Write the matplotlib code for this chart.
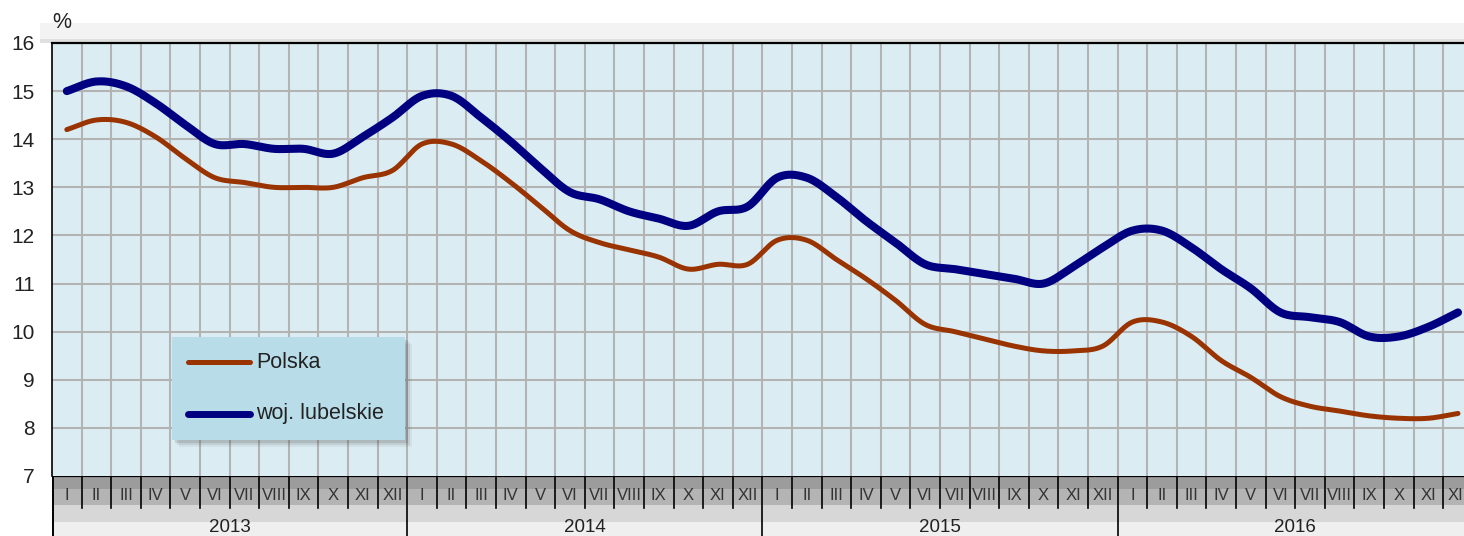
import numpy as np
import matplotlib
matplotlib.use('Agg')
import matplotlib.pyplot as plt
from matplotlib.patches import Rectangle
from matplotlib.lines import Line2D

plt.rcParams['font.family'] = ['Liberation Sans', 'DejaVu Sans']

# ---- data ----
months = ['I', 'II', 'III', 'IV', 'V', 'VI', 'VII', 'VIII', 'IX', 'X', 'XI', 'XII']
years = ['2013', '2014', '2015', '2016']
series_names = ['Polska', 'woj. lubelskie']

polska = [14.2, 14.4, 14.35, 14.05, 13.6, 13.2, 13.1, 13.0, 13.0, 13.0, 13.2, 13.35,
          13.9, 13.9, 13.55, 13.1, 12.6, 12.1, 11.85, 11.7, 11.55, 11.3, 11.4, 11.4,
          11.9, 11.9, 11.5, 11.1, 10.65, 10.15, 10.0, 9.85, 9.7, 9.6, 9.6, 9.7,
          10.2, 10.2, 9.9, 9.4, 9.05, 8.65, 8.45, 8.35, 8.25, 8.2, 8.2, 8.3]
lubelskie = [15.0, 15.2, 15.1, 14.75, 14.3, 13.9, 13.9, 13.8, 13.8, 13.7, 14.05, 14.45,
             14.9, 14.9, 14.45, 13.95, 13.4, 12.9, 12.75, 12.5, 12.35, 12.2, 12.5, 12.6,
             13.2, 13.2, 12.8, 12.3, 11.85, 11.4, 11.3, 11.2, 11.1, 11.0, 11.35, 11.75,
             12.1, 12.1, 11.75, 11.3, 10.9, 10.4, 10.3, 10.2, 9.9, 9.9, 10.1, 10.4]
yticks = list(range(7, 17))

# ---- layout helpers ----
W, H = 1464, 536
fig = plt.figure(figsize=(W / 100, H / 100), dpi=100)
fig.patch.set_facecolor('white')


def rect(x0, y0, x1, y1):
    return [x0 / W, 1 - y1 / H, (x1 - x0) / W, (y1 - y0) / H]


def smooth(vals, n=24):
    x = np.arange(len(vals)) + 0.5
    pts = np.column_stack([x, vals])
    P = np.vstack([2 * pts[0] - pts[1], pts, 2 * pts[-1] - pts[-2]])
    t = np.linspace(0, 1, n, endpoint=False)[:, None]
    out = []
    for i in range(1, len(P) - 2):
        p0, p1, p2, p3 = P[i - 1], P[i], P[i + 1], P[i + 2]
        seg = 0.5 * (2 * p1 + (-p0 + p2) * t + (2 * p0 - 5 * p1 + 4 * p2 - p3) * t ** 2
                     + (-p0 + 3 * p1 - 3 * p2 + p3) * t ** 3)
        out.append(seg)
    out.append(P[-2][None])
    s = np.vstack(out)
    return s[:, 0], s[:, 1]


n = len(polska)
col_px = 29.6
xmax = (W - 52) / col_px

# top grey band
fig.add_artist(Rectangle((40 / W, 1 - 39 / H), (W - 40) / W, 16 / H, transform=fig.transFigure,
                         facecolor='#f3f3f3', edgecolor='none', zorder=0))
fig.add_artist(Rectangle((40 / W, 1 - 43 / H), (W - 40) / W, 4 / H, transform=fig.transFigure,
                         facecolor='#e0e0e0', edgecolor='none', zorder=0))

# ---- main plot ----
ax = fig.add_axes(rect(52, 43, W, 476))
ax.set_facecolor('#dbedf3')
ax.set_xlim(0, xmax)
ax.set_ylim(7, 16)
for k in range(1, n):
    ax.axvline(k, color='#b3b3b3', lw=1.5, zorder=1)
for v in yticks[1:-1]:
    ax.axhline(v, color='#b3b3b3', lw=1.5, zorder=1)
ax.set_xticks([])
ax.set_yticks(yticks)
ax.set_yticklabels([str(v) for v in yticks], fontsize=15, color='#222222')
ax.tick_params(axis='y', length=0, pad=12.5)
for s in ['right', 'bottom']:
    ax.spines[s].set_visible(False)
ax.spines['top'].set_linewidth(1.6)
ax.spines['left'].set_linewidth(1.2)
ax.spines['top'].set_color('black')
ax.spines['left'].set_color('black')

xs, ys = smooth(polska)
ax.plot(xs, ys, color='#993300', lw=3.6, solid_capstyle='round', zorder=3)
xs, ys = smooth(lubelskie)
ax.plot(xs, ys, color='#000080', lw=5.8, solid_capstyle='round', zorder=4)

fig.text(62 / W, 1 - 22 / H, '%', fontsize=15.5, ha='center', va='center', color='#222222')

# ---- bottom category band ----
bx = fig.add_axes(rect(52, 476, W, H))
bx.set_xlim(0, xmax)
bx.set_ylim(60, 0)
bx.axis('off')
bands = [(0, 13, '#9c9c9c'), (13, 29, '#b4b4b4'), (29, 46, '#d7d7d7'), (46, 60, '#efefef')]
for y0, y1, c in bands:
    bx.add_patch(Rectangle((0, y0), xmax, y1 - y0, facecolor=c, edgecolor='none', zorder=0))
for k in range(n):
    bx.text(k + 0.5, 20, months[k % 12], ha='center', va='center', fontsize=12, color='#333333', zorder=2)
for k in range(1, n):
    if k % 12 == 0:
        bx.plot([k, k], [0, 60], color='black', lw=1.2, zorder=3)
    else:
        bx.plot([k, k], [0, 32], color='black', lw=1.2, zorder=3)
for j, yr in enumerate(years):
    bx.text(12 * j + 6, 51, yr, ha='center', va='center', fontsize=13.5, color='#222222', zorder=2)
bx.plot([0.02, 0.02], [0, 60], color='black', lw=1.4, zorder=3)
bx.plot([0, xmax], [0.3, 0.3], color='black', lw=1.6, zorder=3)

# ---- legend (drawn box) ----
lx0, ly0, lx1, ly1 = 172, 337, 405, 440
for off, a in [(7, 0.08), (5, 0.12), (3, 0.18)]:
    fig.add_artist(Rectangle(((lx0 + off) / W, 1 - (ly1 + off) / H), (lx1 - lx0) / W, (ly1 - ly0) / H,
                             transform=fig.transFigure, facecolor='#555555', alpha=a,
                             edgecolor='none', zorder=5))
fig.add_artist(Rectangle((lx0 / W, 1 - ly1 / H), (lx1 - lx0) / W, (ly1 - ly0) / H,
                         transform=fig.transFigure, facecolor='#b8dde8', edgecolor='none', zorder=6))
leg_items = [(series_names[0], '#993300', 3.6, 362), (series_names[1], '#000080', 5.0, 414)]
for name, c, lw, yy in leg_items:
    fig.add_artist(Line2D([188 / W, 250 / W], [1 - yy / H, 1 - yy / H], transform=fig.transFigure,
                          color=c, lw=lw, solid_capstyle='round', zorder=7))
    fig.text(256 / W, 1 - yy / H, name, fontsize=15.5, ha='left', va='center', color='#222222', zorder=7)

fig.savefig('out.png', dpi=100)
